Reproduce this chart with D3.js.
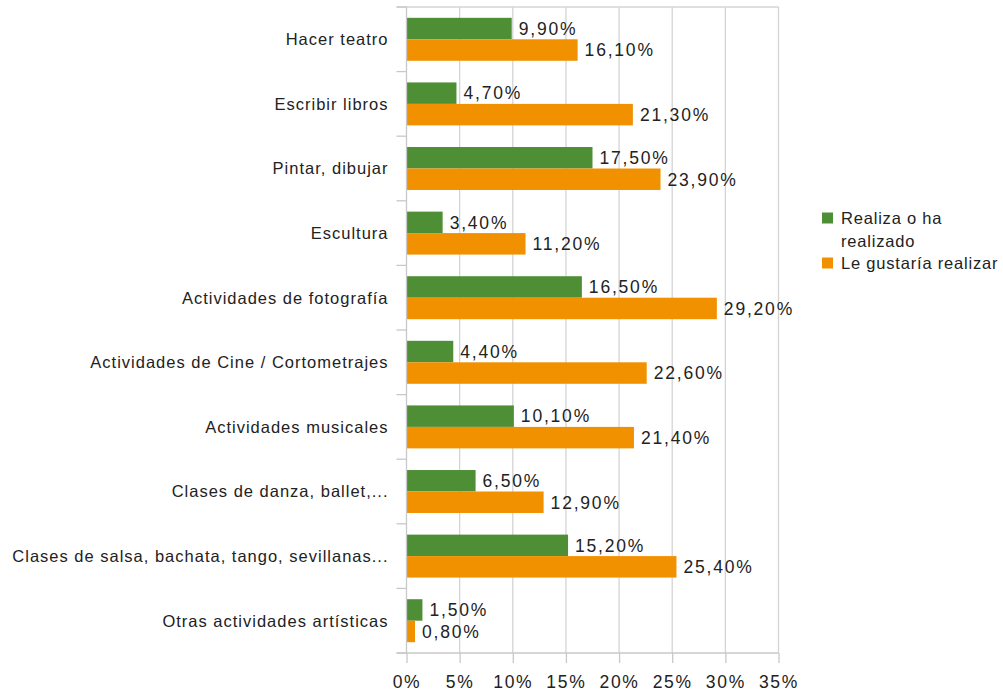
<!DOCTYPE html>
<html lang="es">
<head>
<meta charset="UTF-8">
<title>Actividades artísticas</title>
<style>
  body { margin: 0; background: #fff; }
  svg text { font-family: "Liberation Sans", Arial, sans-serif; fill: #222; }
</style>
</head>
<body>
<svg></svg>
<script src="https://d3js.org/d3.v7.min.js"></script>
<script>
const categories = [
  "Hacer teatro",
  "Escribir libros",
  "Pintar, dibujar",
  "Escultura",
  "Actividades de fotografía",
  "Actividades de Cine / Cortometrajes",
  "Actividades musicales",
  "Clases de danza, ballet,...",
  "Clases de salsa, bachata, tango, sevillanas...",
  "Otras actividades artísticas"
];
const realiza = [9.9, 4.7, 17.5, 3.4, 16.5, 4.4, 10.1, 6.5, 15.2, 1.5];
const gustaria = [16.1, 21.3, 23.9, 11.2, 29.2, 22.6, 21.4, 12.9, 25.4, 0.8];
const seriesNames = ["Realiza o ha realizado", "Le gustaría realizar"];
const xTicks = [0, 5, 10, 15, 20, 25, 30, 35];

const colors = ["#4e8f35", "#f29100"];
const width = 1003, height = 694;
const padding = { top: 7, left: 406.5, right: 224.5, bottom: 41 };

const svg = d3.select("svg").attr("width", width).attr("height", height);

const xScale = d3.scaleLinear()
    .domain([0, 35])
    .range([padding.left, width - padding.right]);

const yScale = d3.scaleBand()
    .domain(categories)
    .range([padding.top, height - padding.bottom])
    .paddingInner(0.335)
    .paddingOuter(0.1675);

const ySub = d3.scaleBand()
    .domain([0, 1])
    .range([0, yScale.bandwidth()]);

// grid
svg.append("g")
    .selectAll("line")
    .data(xTicks.slice(1))
    .join("line")
      .attr("x1", d => xScale(d)).attr("x2", d => xScale(d))
      .attr("y1", padding.top).attr("y2", height - padding.bottom)
      .attr("stroke", "#d4d4d4").attr("stroke-width", 1.3);
svg.append("line")
    .attr("x1", padding.left - 10).attr("x2", xScale(35))
    .attr("y1", padding.top).attr("y2", padding.top)
    .attr("stroke", "#d4d4d4").attr("stroke-width", 1.3);

// bars
const series = [realiza, gustaria];
series.forEach((vals, s) => {
  const g = svg.append("g");
  g.selectAll("rect")
    .data(vals)
    .join("rect")
      .attr("x", xScale(0))
      .attr("y", (d, i) => yScale(categories[i]) + ySub(s))
      .attr("width", d => xScale(d) - xScale(0))
      .attr("height", ySub.bandwidth())
      .attr("fill", colors[s]);
  g.selectAll("text")
    .data(vals)
    .join("text")
      .attr("x", d => xScale(d) + 7)
      .attr("y", (d, i) => yScale(categories[i]) + ySub(s) + ySub.bandwidth() / 2)
      .attr("dy", "0.36em")
      .attr("font-size", 17.5)
      .attr("letter-spacing", 1.8)
      .text(d => d.toFixed(2).replace(".", ",") + "%");
});

// y axis
const yAxisScale = d3.scaleLinear().domain([0, categories.length]).range([padding.top, height - padding.bottom]);
const yg = svg.append("g");
yg.append("line")
    .attr("x1", padding.left).attr("x2", padding.left)
    .attr("y1", padding.top).attr("y2", height - padding.bottom)
    .attr("stroke", "#c8c8c8").attr("stroke-width", 1.3);
yg.selectAll("line.tick")
    .data(d3.range(categories.length + 1))
    .join("line")
      .attr("class", "tick")
      .attr("x1", padding.left - 10).attr("x2", padding.left)
      .attr("y1", d => yAxisScale(d)).attr("y2", d => yAxisScale(d))
      .attr("stroke", "#c8c8c8").attr("stroke-width", 1.3);
yg.selectAll("text")
    .data(categories)
    .join("text")
      .attr("x", padding.left - 18)
      .attr("y", d => yScale(d) + yScale.bandwidth() / 2)
      .attr("dy", "0.36em")
      .attr("text-anchor", "end")
      .attr("font-size", 16.5)
      .attr("letter-spacing", 1.0)
      .text(d => d);

// x axis
const xAxis = g => g
    .attr("transform", `translate(0,${height - padding.bottom})`)
    .call(d3.axisBottom(xScale).tickValues(xTicks).tickSize(10).tickSizeOuter(0).tickFormat(d => d + "%"))
    .call(g => g.select(".domain").attr("d", `M${padding.left - 10},0H${xScale(35)}`))
    .call(g => g.selectAll("line, .domain").attr("stroke", "#c8c8c8").attr("stroke-width", 1.3))
    .call(g => g.selectAll("text").attr("font-size", 17.5).attr("dy", "1.25em").attr("letter-spacing", 1.7)
        .attr("font-family", "Liberation Sans, Arial, sans-serif").attr("fill", "#222"));
svg.append("g").call(xAxis);

// legend
const legend = svg.append("g").attr("transform", "translate(822,0)");
const legendLines = [["Realiza o ha", "realizado"], ["Le gustaría realizar"]];
const legendY = [218, 263];
legendLines.forEach((lines, i) => {
  legend.append("rect")
    .attr("x", 0).attr("y", legendY[i] - 5.5)
    .attr("width", 11).attr("height", 11)
    .attr("fill", colors[i]);
  lines.forEach((t, j) => {
    legend.append("text")
      .attr("x", 19).attr("y", legendY[i] + j * 23)
      .attr("dy", "0.36em")
      .attr("font-size", 16.5)
      .attr("letter-spacing", 0.8)
      .text(t);
  });
});
</script>
</body>
</html>
